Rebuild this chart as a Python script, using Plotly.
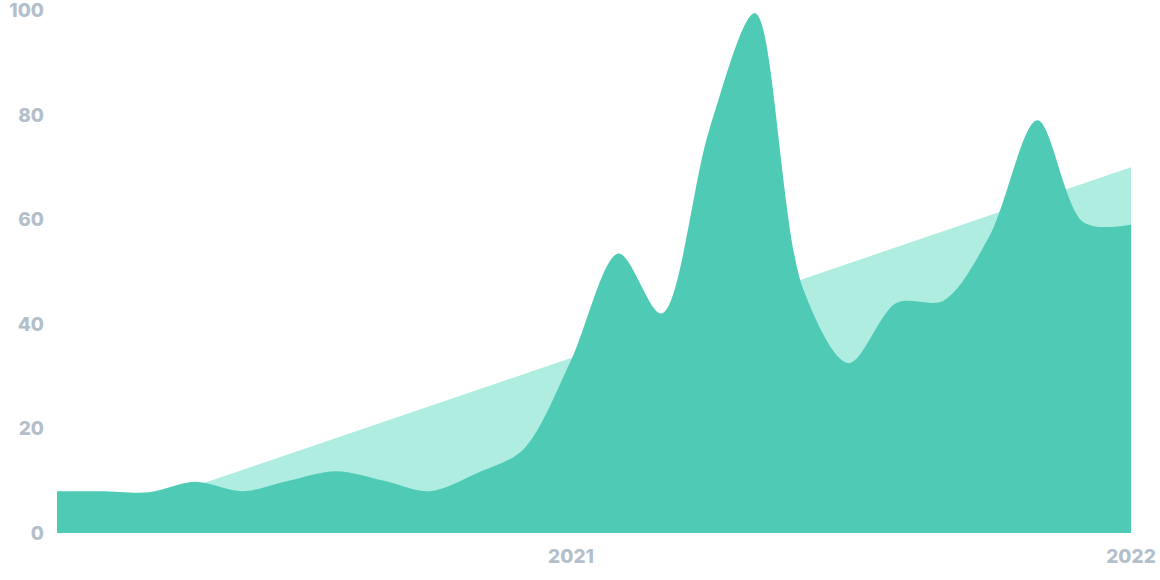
import plotly.graph_objects as go

# monthly points
months = ["2020-02-01", "2020-03-01", "2020-04-01", "2020-05-01", "2020-06-01",
          "2020-07-01", "2020-08-01", "2020-09-01", "2020-10-01", "2020-11-01",
          "2020-12-01", "2021-01-01", "2021-02-01", "2021-03-01", "2021-04-01",
          "2021-05-01", "2021-06-01", "2021-07-01", "2021-08-01", "2021-09-01",
          "2021-10-01", "2021-11-01", "2021-12-01", "2022-01-01"]
activity = [8, 8, 7.8, 9.8, 8, 10, 11.8, 10, 8, 11.5,
            16, 33, 53.5, 42, 77, 99.5, 47, 32.5, 44, 44.5,
            57, 79, 59.5, 59]

trend_dates = ["2020-02-01", "2022-01-01"]
trend = [0, 70]

year_ticks = ["2021-01-01", "2022-01-01"]
year_labels = ["2021", "2022"]
y_ticks = [0, 20, 40, 60, 80, 100]

fig = go.Figure()
fig.add_trace(go.Scatter(x=trend_dates, y=trend, mode="lines", fill="tozeroy",
                         line=dict(width=0, color="#afede1"),
                         fillcolor="#afede1", hoverinfo="skip"))
fig.add_trace(go.Scatter(x=months, y=activity, mode="lines", fill="tozeroy",
                         line=dict(width=0, color="#4fcbb5", shape="spline", smoothing=0.9),
                         fillcolor="#4fcbb5"))

tick_font = dict(family="Inter", size=19, color="#b4bfcc", weight=800)
fig.update_layout(
    width=1160, height=580,
    margin=dict(l=57, r=29, t=10, b=47),
    paper_bgcolor="white", plot_bgcolor="white",
    showlegend=False,
    xaxis=dict(range=["2020-02-01", "2022-01-01"], tickvals=year_ticks, ticktext=year_labels,
               showgrid=False, zeroline=False, showline=False, tickfont=tick_font,
               ticklabelstandoff=10, automargin=False, ticklabeloverflow="allow"),
    yaxis=dict(range=[0, 100.1], tickvals=y_ticks, showgrid=False, zeroline=False,
               showline=False, tickfont=tick_font, ticklabelstandoff=12, automargin=False,
               ticklabeloverflow="allow"),
)
# page has a default body margin, drop it so the chart sits at 0,0
fig.write_html("out.html", config={"displayModeBar": False},
               post_script="document.body.style.margin='0';")
